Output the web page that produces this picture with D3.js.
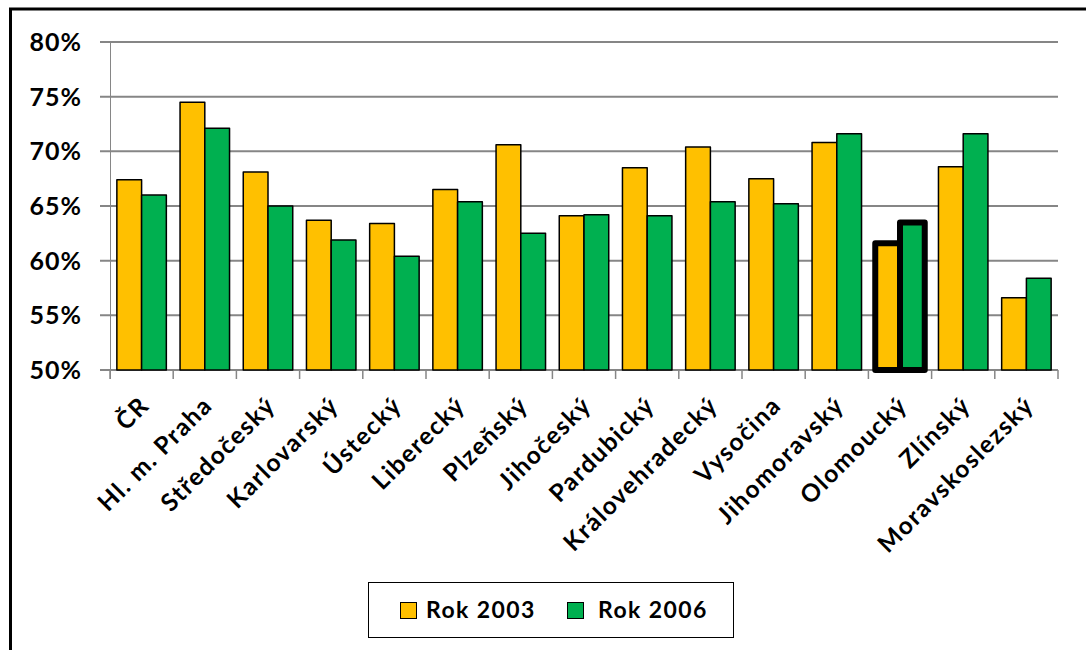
<!DOCTYPE html>
<html><head><meta charset="utf-8">
<script src="https://cdn.jsdelivr.net/npm/d3@7"></script>
<style>
html,body{margin:0;padding:0;background:#fff;}
svg{display:block;}
text{font-family:Lato,"Liberation Sans",sans-serif;font-weight:700;fill:#000;}
</style></head>
<body>
<script>
const categories = ["ČR","Hl. m. Praha","Středočeský","Karlovarský","Ústecký","Liberecký","Plzeňský","Jihočeský","Pardubický","Královehradecký","Vysočina","Jihomoravský","Olomoucký","Zlínský","Moravskoslezský"];
const rok2003 = [67.4,74.5,68.1,63.7,63.4,66.5,70.6,64.1,68.5,70.4,67.5,70.8,61.6,68.6,56.6];
const rok2006 = [66.0,72.1,65.0,61.9,60.4,65.4,62.5,64.2,64.1,65.4,65.2,71.6,63.5,71.6,58.4];
const seriesNames = ["Rok 2003","Rok 2006"];
const yTicks = [50,55,60,65,70,75,80];
const highlighted = "Olomoucký";

(function(){
const W = 1086, H = 650;
const colors = ["#FFC000","#00B050"];
const svg = d3.select("body").append("svg").attr("width",W).attr("height",H);

// outer frame
svg.append("rect").attr("x",10.5).attr("y",9).attr("width",1200).attr("height",800)
  .attr("fill","none").attr("stroke","#000").attr("stroke-width",3);

const pL = 110, pR = 1058, pT = 42, pB = 370;
const x = d3.scaleBand().domain(categories).range([pL,pR]).paddingInner(0.217).paddingOuter(0.1085);
const x1 = d3.scaleBand().domain([0,1]).range([0,x.bandwidth()]);
const y = d3.scaleLinear().domain([50,80]).range([pB,pT]);

// gridlines
svg.append("g").selectAll("line").data(yTicks).join("line")
  .attr("x1",pL-10).attr("x2",pR)
  .attr("y1",d=>y(d)).attr("y2",d=>y(d))
  .attr("stroke","#868686").attr("stroke-width",2);

// y axis line
svg.append("line").attr("x1",pL+0.5).attr("x2",pL+0.5).attr("y1",pT).attr("y2",pB+9)
  .attr("stroke","#868686").attr("stroke-width",1);

// y labels
svg.append("g").selectAll("text").data(yTicks).join("text")
  .attr("x",82).attr("y",d=>y(d)).attr("dy","0.36em")
  .attr("text-anchor","end").style("font-size","25px").style("letter-spacing","1px")
  .text(d=>d+"%");

// x ticks
const tickXs = d3.range(categories.length+1).map(i=>pL + i*(pR-pL)/categories.length);
svg.append("g").selectAll("line").data(tickXs).join("line")
  .attr("x1",d=>d).attr("x2",d=>d).attr("y1",pB).attr("y2",pB+9)
  .attr("stroke","#868686").attr("stroke-width",1.5);

// bars
const groups = svg.append("g").selectAll("g").data(categories).join("g")
  .attr("transform",d=>`translate(${x(d)},0)`);
groups.selectAll("rect").data((c,i)=>[rok2003[i],rok2006[i]].map((v,s)=>({v,s,c})))
  .join("rect")
  .attr("x",d=>x1(d.s)).attr("width",x1.bandwidth())
  .attr("y",d=>y(d.v)).attr("height",d=>pB-y(d.v))
  .attr("fill",d=>colors[d.s])
  .attr("stroke","#000")
  .attr("stroke-linejoin","round")
  .attr("stroke-width",d=>d.c===highlighted?6:1.5);
groups.filter(d=>d===highlighted).raise();

// x labels
svg.append("g").selectAll("text").data(categories).join("text")
  .attr("transform",d=>`translate(${x(d)+x.bandwidth()/2+9},${pB+37}) rotate(-45)`)
  .attr("text-anchor","end").style("font-size","24.5px").style("letter-spacing","1.5px")
  .text(d=>d);

// legend
const lg = svg.append("g");
lg.append("rect").attr("x",368.5).attr("y",582.5).attr("width",365).attr("height",55)
  .attr("fill","#fff").attr("stroke","#000").attr("stroke-width",1);
const legX = [400,567];
const legTextX = [426,598];
seriesNames.forEach((n,i)=>{
  lg.append("rect").attr("x",legX[i]+0.5).attr("y",602.5).attr("width",16).attr("height",16)
    .attr("fill",colors[i]).attr("stroke","#000").attr("stroke-width",1);
  lg.append("text").attr("x",legTextX[i]).attr("y",618).style("font-size","23px").style("letter-spacing","1.4px").text(n);
});
})();
</script>
</body></html>
